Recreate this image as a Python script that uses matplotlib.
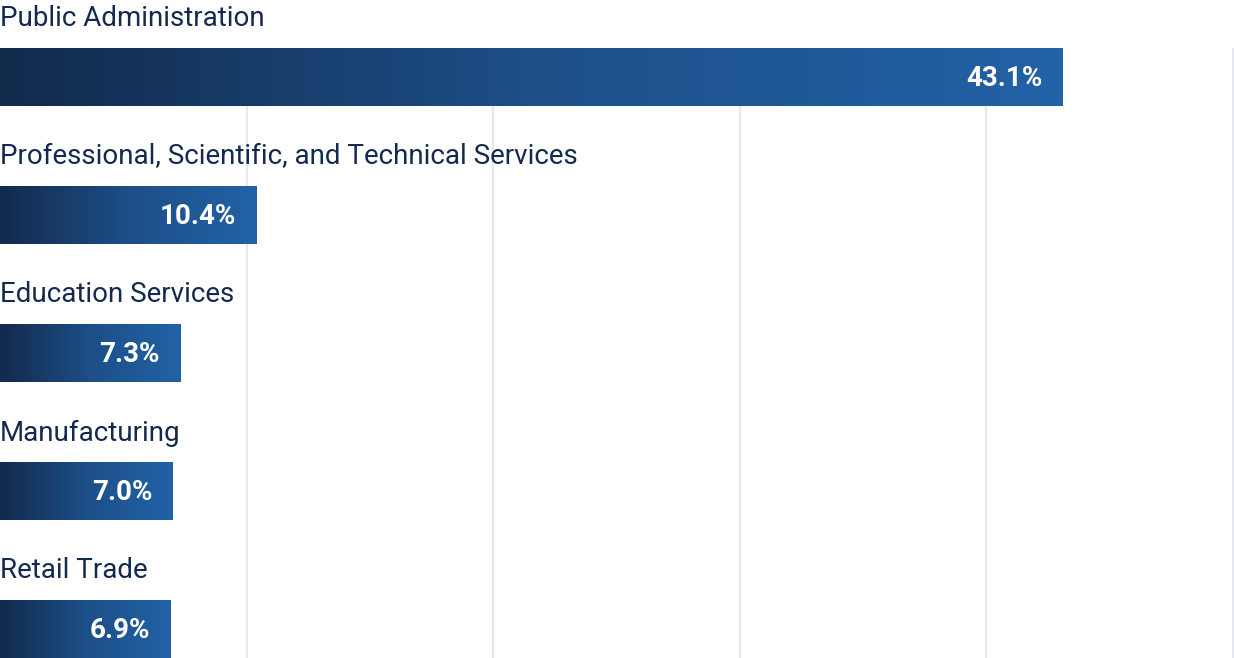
import numpy as np
import matplotlib.pyplot as plt
from matplotlib.colors import LinearSegmentedColormap

# industries and their share (%)
categories = ['Public Administration',
              'Professional, Scientific, and Technical Services',
              'Education Services',
              'Manufacturing',
              'Retail Trade']
values = [43.1, 10.4, 7.3, 7.0, 6.9]
value_labels = ['43.1%', '10.4%', '7.3%', '7.0%', '6.9%']
grid_ticks = [10, 20, 30, 40, 50]

plt.rcParams['font.family'] = ['Roboto', 'DejaVu Sans']

fig = plt.figure(figsize=(12.34, 6.58), dpi=100)
ax = fig.add_axes([0, 0, 1, 1])
ax.axis('off')

cmap = LinearSegmentedColormap.from_list('bar', ['#122a4c', '#1d4f88', '#2262a6'])
grad = np.linspace(0, 1, 256).reshape(1, -1)

row_h = 138
bar_h = 58
first_top = 48

ax.vlines(grid_ticks, first_top, 658, color='#e4e9f2', lw=1.6, zorder=0)

for i, (cat, v, lab) in enumerate(zip(categories, values, value_labels)):
    top = first_top + i * row_h
    ax.imshow(grad, cmap=cmap, aspect='auto', extent=[0, v, top + bar_h, top],
              interpolation='bilinear', zorder=2)
    ax.text(0.0, top - 29, cat, fontsize=20, color='#14294f',
            va='center', ha='left', zorder=3)
    ax.text(v - 0.82, top + bar_h / 2 + 1.5, lab, fontsize=20, fontweight='bold',
            color='white', va='center', ha='right', zorder=3)

ax.set_xlim(0, 50.04)
ax.set_ylim(658, 0)  # pixel-like units, top to bottom
fig.savefig('out.png', dpi=100)
